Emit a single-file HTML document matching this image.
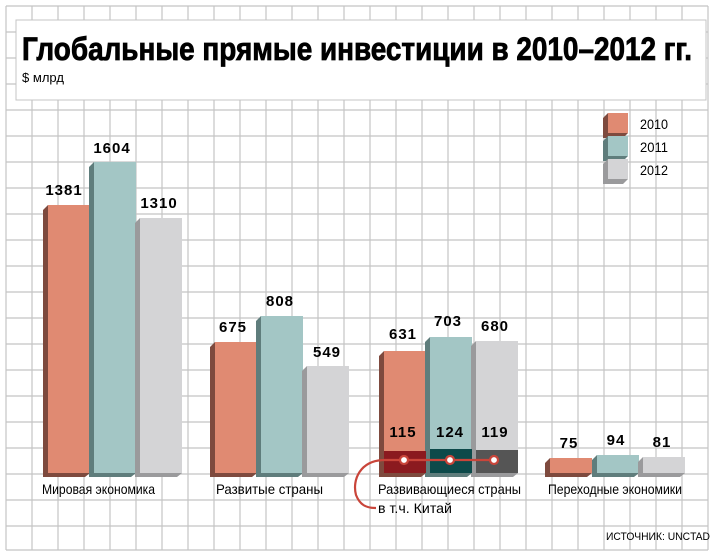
<!DOCTYPE html>
<html><head><meta charset="utf-8"><style>
html,body{margin:0;padding:0;background:#fff}
svg{display:block}
text{font-family:"Liberation Sans Narrow","Liberation Sans",sans-serif}
.n{font-family:"Liberation Sans",sans-serif;font-weight:bold;font-size:15px;text-anchor:middle;letter-spacing:1px}
.c{font-size:14px}
</style></head><body>
<svg width="720" height="556" viewBox="0 0 720 556" xmlns="http://www.w3.org/2000/svg">
<rect width="720" height="556" fill="#fff"/>
<g stroke="#c4c4c4" stroke-width="1.2">
<path d="M6 6V550M32 6V550M58 6V550M84 6V550M110 6V550M136 6V550M162 6V550M188 6V550M214 6V550M240 6V550M266 6V550M292 6V550M318 6V550M344 6V550M370 6V550M396 6V550M422 6V550M448 6V550M474 6V550M500 6V550M526 6V550M552 6V550M578 6V550M604 6V550M630 6V550M656 6V550M682 6V550M708 6V550"/>
<path d="M6 6H708M6 32H708M6 58H708M6 84H708M6 110H708M6 136H708M6 162H708M6 188H708M6 214H708M6 240H708M6 266H708M6 292H708M6 318H708M6 344H708M6 370H708M6 396H708M6 422H708M6 448H708M6 474H708M6 500H708M6 526H708M6 550H708"/>
</g>
<rect x="16" y="20" width="690" height="80" fill="#fff" stroke="#c4c4c4"/>
<text x="22" y="60" font-size="32" font-weight="bold" stroke="#000" stroke-width="0.8" textLength="670" lengthAdjust="spacingAndGlyphs">Глобальные прямые инвестиции в 2010–2012 гг.</text>
<text x="22" y="82" font-size="13" textLength="42" lengthAdjust="spacingAndGlyphs">$ млрд</text>

<g>
<polygon points="608,113 603,118 603,138 623,138 628,133 608,133" fill="#7e4a3e"/><rect x="608" y="113" width="20" height="20" fill="#e08a72"/>
<polygon points="608,136 603,141 603,161 623,161 628,156 608,156" fill="#5f7d7c"/><rect x="608" y="136" width="20" height="20" fill="#a3c6c5"/>
<polygon points="608,159 603,164 603,184 623,184 628,179 608,179" fill="#9a9a9c"/><rect x="608" y="159" width="20" height="20" fill="#d4d4d6"/>
<text x="640" y="129" font-size="14" textLength="28" lengthAdjust="spacingAndGlyphs">2010</text>
<text x="640" y="152" font-size="14" textLength="28" lengthAdjust="spacingAndGlyphs">2011</text>
<text x="640" y="175" font-size="14" textLength="28" lengthAdjust="spacingAndGlyphs">2012</text>
</g>

<g>
<polygon points="48,205 43,210 43,477 85,477 90,473 48,473" fill="#7e4a3e"/><rect x="48" y="205" width="42" height="268" fill="#e08a72"/>
<polygon points="94,162 89,167 89,477 131,477 136,473 94,473" fill="#5f7d7c"/><rect x="94" y="162" width="42" height="311" fill="#a3c6c5"/>
<polygon points="140,218 135,223 135,477 177,477 182,473 140,473" fill="#9a9a9c"/><rect x="140" y="218" width="42" height="255" fill="#d4d4d6"/>
<polygon points="215,342 210,347 210,477 252,477 257,473 215,473" fill="#7e4a3e"/><rect x="215" y="342" width="42" height="131" fill="#e08a72"/>
<polygon points="261,316 256,321 256,477 298,477 303,473 261,473" fill="#5f7d7c"/><rect x="261" y="316" width="42" height="157" fill="#a3c6c5"/>
<polygon points="307,366 302,371 302,477 344,477 349,473 307,473" fill="#9a9a9c"/><rect x="307" y="366" width="42" height="107" fill="#d4d4d6"/>
<polygon points="384,351 379,356 379,477 421,477 426,473 384,473" fill="#7e4a3e"/><rect x="384" y="351" width="42" height="122" fill="#e08a72"/>
<polygon points="430,337 425,342 425,477 467,477 472,473 430,473" fill="#5f7d7c"/><rect x="430" y="337" width="42" height="136" fill="#a3c6c5"/>
<polygon points="476,341 471,346 471,477 513,477 518,473 476,473" fill="#9a9a9c"/><rect x="476" y="341" width="42" height="132" fill="#d4d4d6"/>
<rect x="384" y="451" width="42" height="22" fill="#8b1a1f"/>
<rect x="430" y="449" width="42" height="24" fill="#0d4a4a"/>
<rect x="476" y="450" width="42" height="23" fill="#555"/>
<polygon points="550,458 545,463 545,477 587,477 592,473 550,473" fill="#7e4a3e"/><rect x="550" y="458" width="42" height="15" fill="#e08a72"/>
<polygon points="597,455 592,460 592,477 634,477 639,473 597,473" fill="#5f7d7c"/><rect x="597" y="455" width="42" height="18" fill="#a3c6c5"/>
<polygon points="643,457 638,462 638,477 680,477 685,473 643,473" fill="#9a9a9c"/><rect x="643" y="457" width="42" height="16" fill="#d4d4d6"/>
</g>

<text class="n" x="64" y="195">1381</text>
<text class="n" x="112" y="153">1604</text>
<text class="n" x="159" y="208">1310</text>
<text class="n" x="233" y="332">675</text>
<text class="n" x="280" y="306">808</text>
<text class="n" x="327" y="357">549</text>
<text class="n" x="403" y="339">631</text>
<text class="n" x="448" y="326">703</text>
<text class="n" x="495" y="331">680</text>
<text class="n" x="403" y="437">115</text>
<text class="n" x="450" y="437">124</text>
<text class="n" x="495" y="437">119</text>
<text class="n" x="569" y="448">75</text>
<text class="n" x="616" y="445">94</text>
<text class="n" x="662" y="447">81</text>

<path d="M494 460H385C360 460 352 480 356 495C360 505 366 508 376 508" fill="none" stroke="#c9453a" stroke-width="2.2"/>
<g fill="#fff" stroke="#c9453a" stroke-width="2.2"><circle cx="404" cy="460" r="4"/><circle cx="450" cy="460" r="4"/><circle cx="494" cy="460" r="4"/></g>

<text class="c" x="42" y="494" textLength="113" lengthAdjust="spacingAndGlyphs">Мировая экономика</text>
<text class="c" x="216" y="494" textLength="107" lengthAdjust="spacingAndGlyphs">Развитые страны</text>
<text class="c" x="378" y="494" textLength="143" lengthAdjust="spacingAndGlyphs">Развивающиеся страны</text>
<text class="c" x="378" y="513" textLength="74" lengthAdjust="spacingAndGlyphs">в т.ч. Китай</text>
<text class="c" x="548" y="494" textLength="134" lengthAdjust="spacingAndGlyphs">Переходные экономики</text>
<text x="606" y="540" font-size="11" textLength="104" lengthAdjust="spacingAndGlyphs">ИСТОЧНИК: UNCTAD</text>
</svg>
</body></html>
